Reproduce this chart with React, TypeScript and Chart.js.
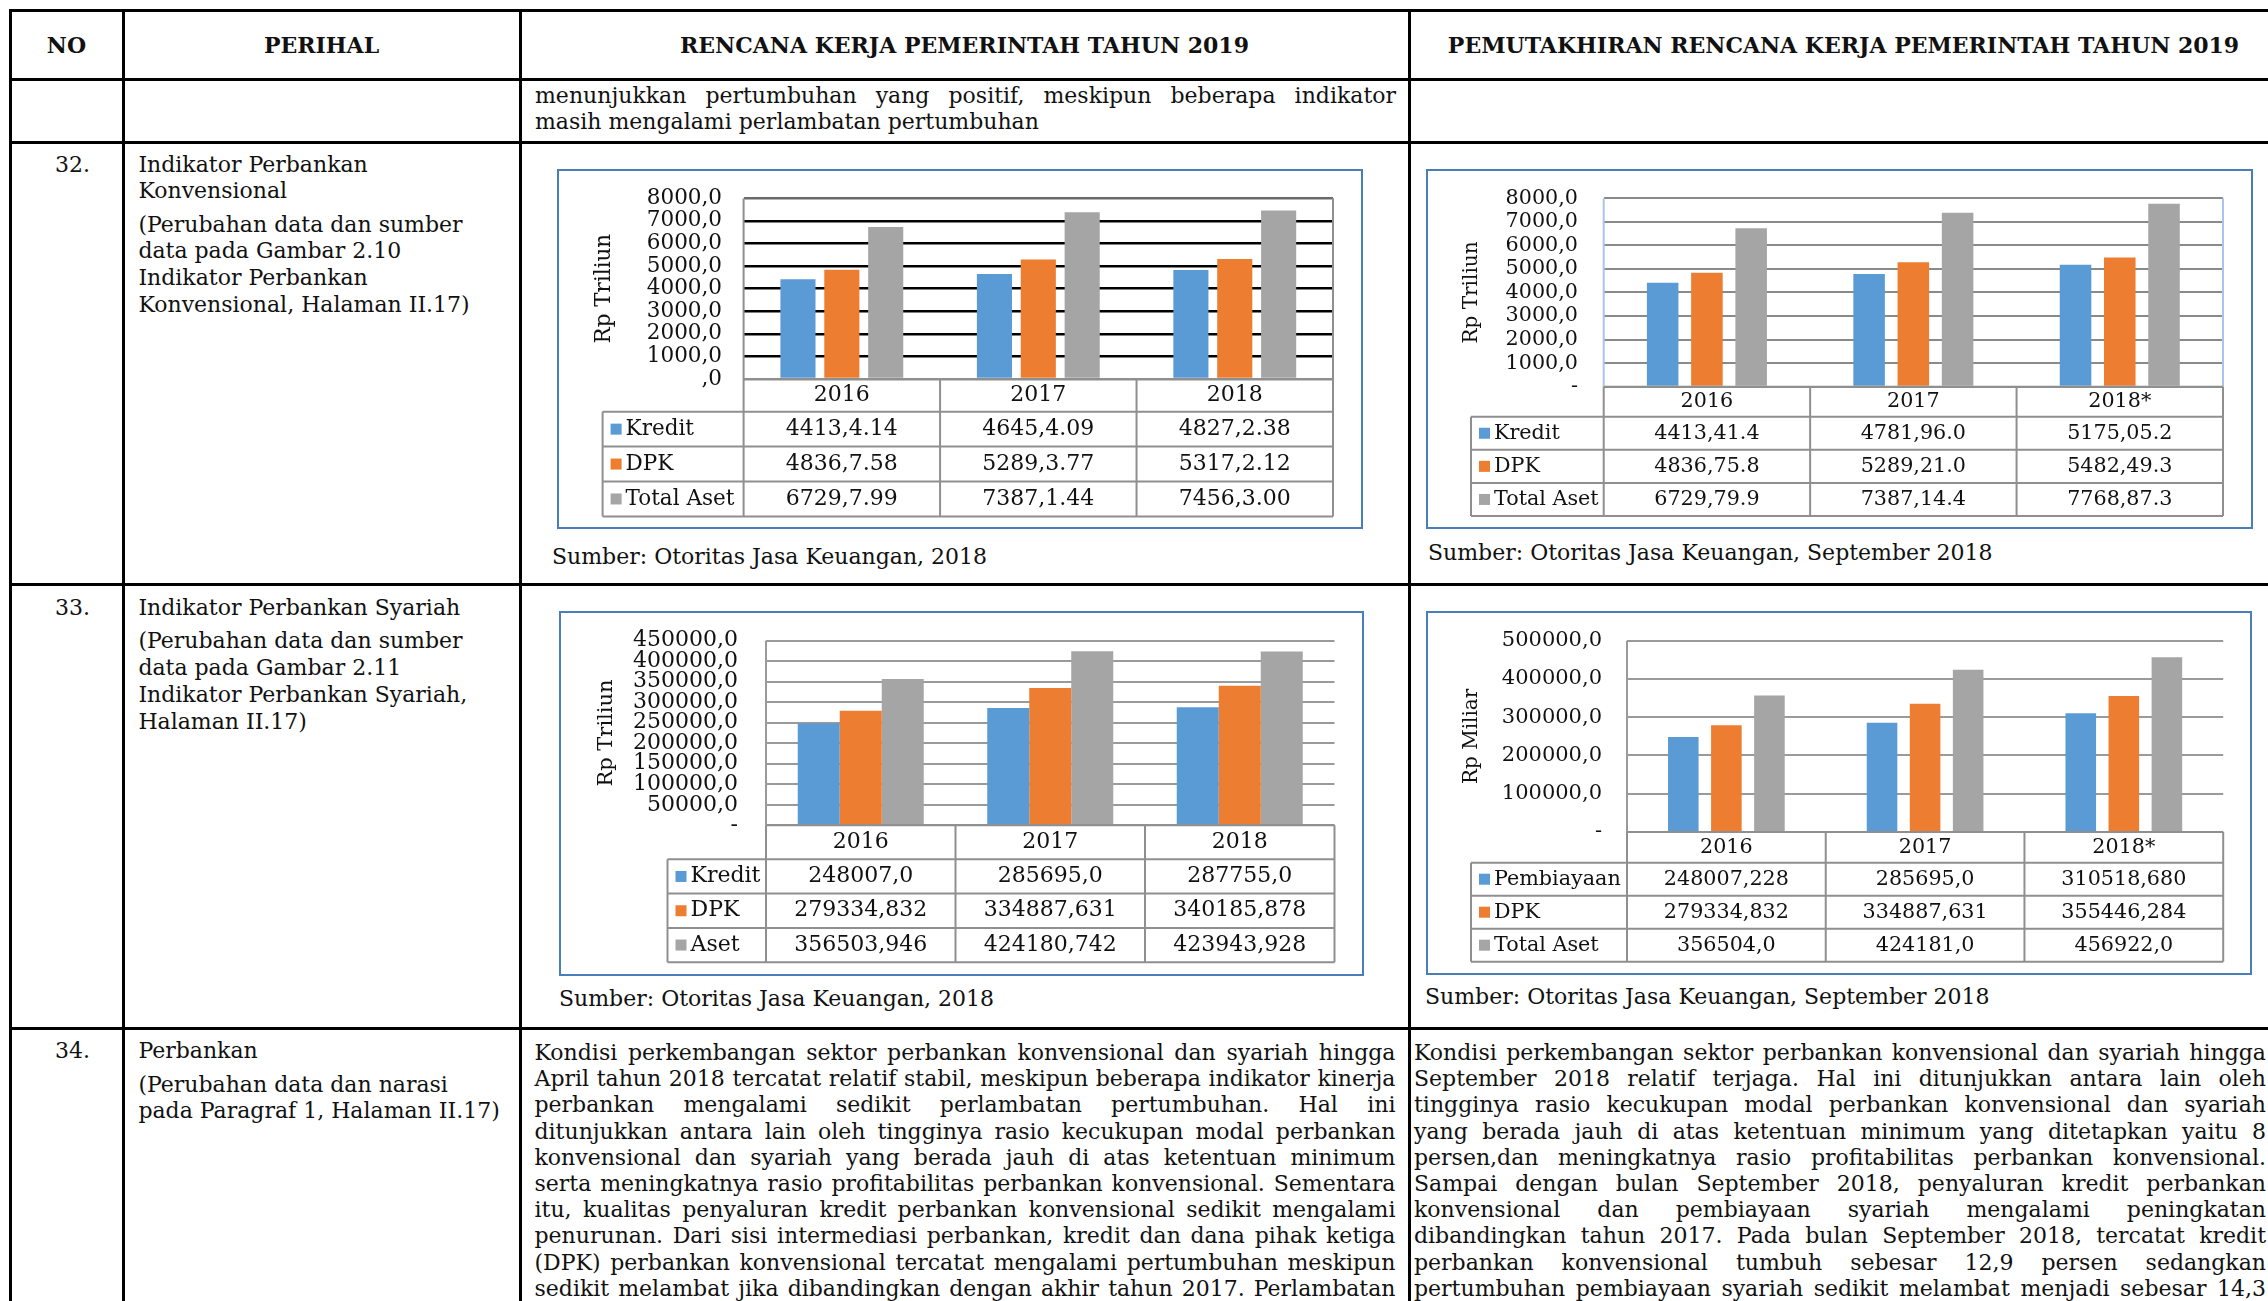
import React, { useEffect, useLayoutEffect, useRef } from "react";
import { Chart, registerables } from "chart.js";

Chart.register(...registerables);

const FONT = '"DejaVu Serif", serif';
const TEXT = "#111111";
const COLORS = ["#5B9BD5", "#ED7D31", "#A5A5A5"];

// ---------------- DATA ----------------
const YEARS_RKP = ["2016", "2017", "2018"];
const YEARS_UPD = ["2016", "2017", "2018*"];

// Gambar 2.10 (RKP 2019) - Perbankan Konvensional, Rp Triliun
const KONV_RKP_SERIES = ["Kredit", "DPK", "Total Aset"];
const KONV_RKP_KREDIT = [4413.414, 4645.409, 4827.238];
const KONV_RKP_DPK = [4836.758, 5289.377, 5317.212];
const KONV_RKP_ASET = [6729.799, 7387.144, 7456.3];
const KONV_RKP_KREDIT_TXT = ["4413,4.14", "4645,4.09", "4827,2.38"];
const KONV_RKP_DPK_TXT = ["4836,7.58", "5289,3.77", "5317,2.12"];
const KONV_RKP_ASET_TXT = ["6729,7.99", "7387,1.44", "7456,3.00"];
const KONV_RKP_TICKS = [",0", "1000,0", "2000,0", "3000,0", "4000,0", "5000,0", "6000,0", "7000,0", "8000,0"];

// Pemutakhiran - Perbankan Konvensional, Rp Triliun
const KONV_UPD_SERIES = ["Kredit", "DPK", "Total Aset"];
const KONV_UPD_KREDIT = [4413.414, 4781.96, 5175.052];
const KONV_UPD_DPK = [4836.758, 5289.21, 5482.493];
const KONV_UPD_ASET = [6729.799, 7387.144, 7768.873];
const KONV_UPD_KREDIT_TXT = ["4413,41.4", "4781,96.0", "5175,05.2"];
const KONV_UPD_DPK_TXT = ["4836,75.8", "5289,21.0", "5482,49.3"];
const KONV_UPD_ASET_TXT = ["6729,79.9", "7387,14.4", "7768,87.3"];
const KONV_UPD_TICKS = ["-", "1000,0", "2000,0", "3000,0", "4000,0", "5000,0", "6000,0", "7000,0", "8000,0"];

// Gambar 2.11 (RKP 2019) - Perbankan Syariah
const SYR_RKP_SERIES = ["Kredit", "DPK", "Aset"];
const SYR_RKP_KREDIT = [248007.0, 285695.0, 287755.0];
const SYR_RKP_DPK = [279334.832, 334887.631, 340185.878];
const SYR_RKP_ASET = [356503.946, 424180.742, 423943.928];
const SYR_RKP_KREDIT_TXT = ["248007,0", "285695,0", "287755,0"];
const SYR_RKP_DPK_TXT = ["279334,832", "334887,631", "340185,878"];
const SYR_RKP_ASET_TXT = ["356503,946", "424180,742", "423943,928"];
const SYR_RKP_TICKS = ["-", "50000,0", "100000,0", "150000,0", "200000,0", "250000,0", "300000,0", "350000,0", "400000,0", "450000,0"];

// Pemutakhiran - Perbankan Syariah, Rp Miliar
const SYR_UPD_SERIES = ["Pembiayaan", "DPK", "Total Aset"];
const SYR_UPD_PEMB = [248007.228, 285695.0, 310518.68];
const SYR_UPD_DPK = [279334.832, 334887.631, 355446.284];
const SYR_UPD_ASET = [356504.0, 424181.0, 456922.0];
const SYR_UPD_PEMB_TXT = ["248007,228", "285695,0", "310518,680"];
const SYR_UPD_DPK_TXT = ["279334,832", "334887,631", "355446,284"];
const SYR_UPD_ASET_TXT = ["356504,0", "424181,0", "456922,0"];
const SYR_UPD_TICKS = ["-", "100000,0", "200000,0", "300000,0", "400000,0", "500000,0"];

// ---------------- TEXT ----------------
const COL3_CONT = [
  "menunjukkan pertumbuhan yang positif, meskipun beberapa indikator",
  "masih mengalami perlambatan pertumbuhan",
];
const COL3_PERBANKAN = [
  "Kondisi perkembangan sektor perbankan konvensional dan syariah hingga",
  "April tahun 2018 tercatat relatif stabil, meskipun beberapa indikator kinerja",
  "perbankan mengalami sedikit perlambatan pertumbuhan. Hal ini",
  "ditunjukkan antara lain oleh tingginya rasio kecukupan modal perbankan",
  "konvensional dan syariah yang berada jauh di atas ketentuan minimum",
  "serta meningkatnya rasio profitabilitas perbankan konvensional. Sementara",
  "itu, kualitas penyaluran kredit perbankan konvensional sedikit mengalami",
  "penurunan. Dari sisi intermediasi perbankan, kredit dan dana pihak ketiga",
  "(DPK) perbankan konvensional tercatat mengalami pertumbuhan meskipun",
  "sedikit melambat jika dibandingkan dengan akhir tahun 2017. Perlambatan",
];
const COL4_PERBANKAN = [
  "Kondisi perkembangan sektor perbankan konvensional dan syariah hingga",
  "September 2018 relatif terjaga. Hal ini ditunjukkan antara lain oleh",
  "tingginya rasio kecukupan modal perbankan konvensional dan syariah",
  "yang berada jauh di atas ketentuan minimum yang ditetapkan yaitu 8",
  "persen,dan meningkatnya rasio profitabilitas perbankan konvensional.",
  "Sampai dengan bulan September 2018, penyaluran kredit perbankan",
  "konvensional dan pembiayaan syariah mengalami peningkatan",
  "dibandingkan tahun 2017. Pada bulan September 2018, tercatat kredit",
  "perbankan konvensional tumbuh sebesar 12,9 persen sedangkan",
  "pertumbuhan pembiayaan syariah sedikit melambat menjadi sebesar 14,3",
];

// ---------------- CHART ----------------
type Spec = {
  box: { left: number; top: number; width: number; height: number };
  pad: { top: number; right: number; bottom: number };
  yWidth: number;
  tickPad: number;
  titlePad: number;
  title: string;
  tickFs: number;
  tableFs: number;
  legendFs: number;
  titleFs: number;
  labels: string[];
  series: string[];
  values: number[][];
  texts: string[][];
  ticks: string[];
  max: number;
  step: number;
  catPct: number;
  barPct: number;
  gridColor: (v: number) => string;
  gridWidth: number;
  yearH: number;
  rowH: number;
  legendOff: number;
  frame: string[];
  frameColor: string;
  tableLine: string;
};

function makeTablePlugin(spec: Spec) {
  return {
    id: "dataTable",
    afterDraw(chart: any) {
      const { ctx, chartArea } = chart;
      const xs = chart.scales.x;
      const n = chart.data.labels.length;
      const c0 = xs.getPixelForValue(0);
      const step = n > 1 ? xs.getPixelForValue(1) - c0 : chartArea.right - chartArea.left;
      const { left, right, top, bottom } = chartArea;
      const rows = chart.data.datasets.length;
      const yearBottom = bottom + spec.yearH;
      const tableBottom = yearBottom + spec.rowH * rows;
      const lx = left + spec.legendOff;
      const line = (x1: number, y1: number, x2: number, y2: number) => {
        ctx.beginPath();
        ctx.moveTo(x1, y1);
        ctx.lineTo(x2, y2);
        ctx.stroke();
      };
      ctx.save();
      ctx.lineWidth = 2;
      ctx.strokeStyle = spec.frameColor;
      if (spec.frame.includes("left")) line(left, top, left, bottom);
      if (spec.frame.includes("right")) line(right, top, right, bottom);
      if (spec.frame.includes("top")) line(left, top, right, top);

      ctx.strokeStyle = spec.tableLine;
      line(left, bottom, right, bottom);
      line(lx, yearBottom, right, yearBottom);
      for (let r = 1; r <= rows; r++) line(lx, yearBottom + r * spec.rowH, right, yearBottom + r * spec.rowH);
      for (let i = 0; i <= n; i++) {
        const bx = c0 - step / 2 + i * step;
        line(bx, bottom, bx, tableBottom);
      }
      line(lx, yearBottom, lx, tableBottom);

      ctx.fillStyle = TEXT;
      ctx.textBaseline = "middle";
      ctx.textAlign = "center";
      ctx.font = `${spec.tableFs}px ${FONT}`;
      for (let i = 0; i < n; i++) {
        ctx.fillText(String(chart.data.labels[i]), xs.getPixelForValue(i), bottom + spec.yearH / 2);
      }
      chart.data.datasets.forEach((_ds: any, r: number) => {
        const cy = yearBottom + (r + 0.5) * spec.rowH;
        for (let i = 0; i < n; i++) ctx.fillText(spec.texts[r][i], xs.getPixelForValue(i), cy);
      });
      ctx.textAlign = "left";
      ctx.font = `${spec.legendFs}px ${FONT}`;
      chart.data.datasets.forEach((ds: any, r: number) => {
        const cy = yearBottom + (r + 0.5) * spec.rowH;
        ctx.fillStyle = ds.backgroundColor;
        ctx.fillRect(lx + 8, cy - 5.5, 11, 11);
        ctx.fillStyle = TEXT;
        ctx.fillText(ds.label, lx + 23, cy);
      });
      ctx.restore();
    },
  };
}

function BarTableChart({ spec }: { spec: Spec }) {
  const ref = useRef<HTMLCanvasElement>(null);
  const cw = spec.box.width - 4;
  const ch = spec.box.height - 4;
  useEffect(() => {
    const chart = new Chart(ref.current as HTMLCanvasElement, {
      type: "bar",
      data: {
        labels: spec.labels,
        datasets: spec.series.map((s, i) => ({
          label: s,
          data: spec.values[i],
          backgroundColor: COLORS[i],
          borderWidth: 0,
          categoryPercentage: spec.catPct,
          barPercentage: spec.barPct,
        })),
      },
      options: {
        responsive: false,
        animation: false,
        devicePixelRatio: 1,
        layout: { padding: { left: 0, top: spec.pad.top, right: spec.pad.right, bottom: spec.pad.bottom } },
        plugins: { legend: { display: false }, tooltip: { enabled: false }, title: { display: false } },
        scales: {
          x: { display: false },
          y: {
            min: 0,
            max: spec.max,
            afterFit: (s: any) => {
              s.width = spec.yWidth;
            },
            ticks: {
              stepSize: spec.step,
              autoSkip: false,
              padding: 0,
              color: TEXT,
              font: { family: FONT, size: spec.tickFs },
              callback: (_v: any, i: number) => spec.ticks[i],
            },
            grid: {
              color: (c: any) => spec.gridColor(c.tick ? c.tick.value : 0),
              lineWidth: spec.gridWidth,
              drawTicks: true,
              tickLength: spec.tickPad,
              tickColor: "rgba(0,0,0,0)",
            },
            border: { display: false },
            title: {
              display: true,
              text: spec.title,
              color: TEXT,
              font: { family: FONT, size: spec.titleFs, lineHeight: 1.2 },
              padding: { top: spec.titlePad, bottom: 0 },
            },
          },
        },
      } as any,
      plugins: [makeTablePlugin(spec)],
    });
    return () => chart.destroy();
  }, []);
  return (
    <div
      style={{
        position: "absolute",
        left: spec.box.left,
        top: spec.box.top,
        width: spec.box.width,
        height: spec.box.height,
        border: "2px solid #4A7EBB",
        boxSizing: "border-box",
        background: "#fff",
      }}
    >
      <canvas ref={ref} width={cw} height={ch} style={{ display: "block", width: cw, height: ch }} />
    </div>
  );
}

const SPEC_KONV_RKP: Spec = {
  box: { left: 557, top: 169, width: 806, height: 360 },
  pad: { top: 27.3, right: 28, bottom: 148 },
  yWidth: 184.6,
  tickPad: 21.6,
  titlePad: 32.1,
  title: "Rp Triliun",
  tickFs: 21.5,
  tableFs: 22,
  legendFs: 21.5,
  titleFs: 21.5,
  labels: YEARS_RKP,
  series: KONV_RKP_SERIES,
  values: [KONV_RKP_KREDIT, KONV_RKP_DPK, KONV_RKP_ASET],
  texts: [KONV_RKP_KREDIT_TXT, KONV_RKP_DPK_TXT, KONV_RKP_ASET_TXT],
  ticks: KONV_RKP_TICKS,
  max: 8000,
  step: 1000,
  catPct: 0.67,
  barPct: 0.8,
  gridColor: (v) => (v === 0 ? "#8f8f8f" : v === 8000 ? "#6b6b6b" : "#000000"),
  gridWidth: 2.5,
  yearH: 32.7,
  rowH: 34.9,
  legendOff: -141,
  frame: ["left", "right"],
  frameColor: "#8f8f8f",
  tableLine: "#8f8f8f",
};

const SPEC_KONV_UPD: Spec = {
  box: { left: 1426, top: 169, width: 827, height: 360 },
  pad: { top: 27.3, right: 28, bottom: 140.3 },
  yWidth: 175.7,
  tickPad: 25.7,
  titlePad: 32,
  title: "Rp Triliun",
  tickFs: 20.7,
  tableFs: 20.7,
  legendFs: 20.7,
  titleFs: 20,
  labels: YEARS_UPD,
  series: KONV_UPD_SERIES,
  values: [KONV_UPD_KREDIT, KONV_UPD_DPK, KONV_UPD_ASET],
  texts: [KONV_UPD_KREDIT_TXT, KONV_UPD_DPK_TXT, KONV_UPD_ASET_TXT],
  ticks: KONV_UPD_TICKS,
  max: 8000,
  step: 1000,
  catPct: 0.643,
  barPct: 0.713,
  gridColor: (v) => (v === 0 ? "#8f8f8f" : "#8a8a8a"),
  gridWidth: 2,
  yearH: 30,
  rowH: 33.1,
  legendOff: -132.7,
  frame: ["left", "right"],
  frameColor: "#a9c5e8",
  tableLine: "#8f8f8f",
};

const SPEC_SYR_RKP: Spec = {
  box: { left: 559, top: 611, width: 805, height: 365 },
  pad: { top: 27.7, right: 27.5, bottom: 148.7 },
  yWidth: 205,
  tickPad: 28,
  titlePad: 33.4,
  title: "Rp Triliun",
  tickFs: 22,
  tableFs: 22,
  legendFs: 22,
  titleFs: 21,
  labels: YEARS_RKP,
  series: SYR_RKP_SERIES,
  values: [SYR_RKP_KREDIT, SYR_RKP_DPK, SYR_RKP_ASET],
  texts: [SYR_RKP_KREDIT_TXT, SYR_RKP_DPK_TXT, SYR_RKP_ASET_TXT],
  ticks: SYR_RKP_TICKS,
  max: 450000,
  step: 50000,
  catPct: 0.665,
  barPct: 1.0,
  gridColor: () => "#9a9a9a",
  gridWidth: 2,
  yearH: 34,
  rowH: 34.3,
  legendOff: -98.5,
  frame: ["left"],
  frameColor: "#9a9a9a",
  tableLine: "#8f8f8f",
};

const SPEC_SYR_UPD: Spec = {
  box: { left: 1426, top: 611, width: 826, height: 364 },
  pad: { top: 27.7, right: 26.8, bottom: 141 },
  yWidth: 199,
  tickPad: 25,
  titlePad: 32,
  title: "Rp Miliar",
  tickFs: 21,
  tableFs: 20.7,
  legendFs: 20.7,
  titleFs: 20,
  labels: YEARS_UPD,
  series: SYR_UPD_SERIES,
  values: [SYR_UPD_PEMB, SYR_UPD_DPK, SYR_UPD_ASET],
  texts: [SYR_UPD_PEMB_TXT, SYR_UPD_DPK_TXT, SYR_UPD_ASET_TXT],
  ticks: SYR_UPD_TICKS,
  max: 500000,
  step: 100000,
  catPct: 0.65,
  barPct: 0.71,
  gridColor: () => "#9a9a9a",
  gridWidth: 2,
  yearH: 30.7,
  rowH: 33,
  legendOff: -156,
  frame: ["left"],
  frameColor: "#9a9a9a",
  tableLine: "#8f8f8f",
};

// ---------------- TEXT HELPERS ----------------
function Lines(props: { left: number; top: number; width: number; lh: number; fs: number; lines: string[]; justifyLast: boolean }) {
  const ref = useRef<HTMLDivElement>(null);
  useLayoutEffect(() => {
    const root = ref.current;
    if (!root) return;
    root.querySelectorAll<HTMLDivElement>("[data-jl]").forEach((el) => {
      const cw = el.clientWidth;
      const sw = el.scrollWidth;
      if (sw > cw + 0.5) {
        el.style.width = sw + "px";
        el.style.transformOrigin = "0 0";
        el.style.transform = `scaleX(${cw / sw})`;
      }
    });
  }, []);
  const { left, top, width, lh, fs, lines, justifyLast } = props;
  return (
    <div ref={ref} style={{ position: "absolute", left, top, width, fontSize: fs, lineHeight: lh + "px" }}>
      {lines.map((t, i) => {
        const j = i < lines.length - 1 || justifyLast;
        return j ? (
          <div key={i} data-jl="1" style={{ display: "flex", justifyContent: "space-between", columnGap: "0.3em", whiteSpace: "nowrap" }}>
            {t.split(" ").map((w, k) => (
              <span key={k}>{w}</span>
            ))}
          </div>
        ) : (
          <div key={i} style={{ whiteSpace: "nowrap" }}>
            {t}
          </div>
        );
      })}
    </div>
  );
}

const HL = (y: number) => (
  <div style={{ position: "absolute", left: 8.5, top: y - 1.5, width: 2290, height: 3, background: "#000" }} />
);
const VL = (x: number) => (
  <div style={{ position: "absolute", left: x - 1.5, top: 9, width: 3, height: 1300, background: "#000" }} />
);

function HeaderCell({ x1, x2, text }: { x1: number; x2: number; text: string }) {
  return (
    <div
      style={{
        position: "absolute",
        left: x1,
        top: 12,
        width: x2 - x1,
        height: 65.5,
        display: "flex",
        alignItems: "center",
        justifyContent: "center",
        fontWeight: "bold",
        fontSize: 22,
        whiteSpace: "nowrap",
      }}
    >
      {text}
    </div>
  );
}

function Perihal({ top, first, second }: { top: number; first: string[]; second: string[] }) {
  return (
    <div style={{ position: "absolute", left: 138.4, top, fontSize: 22, lineHeight: "26.8px", whiteSpace: "nowrap" }}>
      <div>
        {first.map((t, i) => (
          <div key={i}>{t}</div>
        ))}
      </div>
      <div style={{ marginTop: 6.5 }}>
        {second.map((t, i) => (
          <div key={i}>{t}</div>
        ))}
      </div>
    </div>
  );
}

function Num({ top, text }: { top: number; text: string }) {
  return <div style={{ position: "absolute", left: 55, top, fontSize: 22, lineHeight: "26.8px" }}>{text}</div>;
}

function Sumber({ left, cy, text }: { left: number; cy: number; text: string }) {
  return (
    <div style={{ position: "absolute", left, top: cy - 13, fontSize: 22, lineHeight: "26px", whiteSpace: "nowrap" }}>{text}</div>
  );
}

export default function App() {
  return (
    <div
      style={{
        position: "relative",
        width: 2268,
        height: 1301,
        overflow: "hidden",
        background: "#fff",
        fontFamily: FONT,
        color: TEXT,
      }}
    >
      <style>{`html,body{margin:0;padding:0;overflow:hidden;background:#fff}`}</style>

      {HL(10.5)}
      {HL(79)}
      {HL(142)}
      {HL(584.5)}
      {HL(1028)}
      {VL(10)}
      {VL(123)}
      {VL(520)}
      {VL(1409)}
      {VL(2278)}

      <HeaderCell x1={10} x2={123} text="NO" />
      <HeaderCell x1={123} x2={520} text="PERIHAL" />
      <HeaderCell x1={520} x2={1409} text="RENCANA KERJA PEMERINTAH TAHUN 2019" />
      <HeaderCell x1={1409} x2={2278} text="PEMUTAKHIRAN RENCANA KERJA PEMERINTAH TAHUN 2019" />

      <Lines left={535} top={83} width={861} lh={26} fs={22} lines={COL3_CONT} justifyLast={false} />

      <Num top={151.6} text="32." />
      <Perihal
        top={151.6}
        first={["Indikator Perbankan", "Konvensional"]}
        second={["(Perubahan data dan sumber", "data pada Gambar 2.10", "Indikator Perbankan", "Konvensional, Halaman II.17)"]}
      />
      <BarTableChart spec={SPEC_KONV_RKP} />
      <Sumber left={552} cy={556.7} text="Sumber: Otoritas Jasa Keuangan, 2018" />
      <BarTableChart spec={SPEC_KONV_UPD} />
      <Sumber left={1428} cy={553} text="Sumber: Otoritas Jasa Keuangan, September 2018" />

      <Num top={595} text="33." />
      <Perihal
        top={595}
        first={["Indikator Perbankan Syariah"]}
        second={["(Perubahan data dan sumber", "data pada Gambar 2.11", "Indikator Perbankan Syariah,", "Halaman II.17)"]}
      />
      <BarTableChart spec={SPEC_SYR_RKP} />
      <Sumber left={559} cy={999} text="Sumber: Otoritas Jasa Keuangan, 2018" />
      <BarTableChart spec={SPEC_SYR_UPD} />
      <Sumber left={1425} cy={996.5} text="Sumber: Otoritas Jasa Keuangan, September 2018" />

      <Num top={1038.3} text="34." />
      <Perihal top={1038.3} first={["Perbankan"]} second={["(Perubahan data dan narasi", "pada Paragraf 1, Halaman II.17)"]} />
      <Lines left={534.5} top={1040} width={861} lh={26.2} fs={22} lines={COL3_PERBANKAN} justifyLast={true} />
      <Lines left={1414} top={1040} width={852} lh={26.2} fs={22} lines={COL4_PERBANKAN} justifyLast={true} />
    </div>
  );
}
